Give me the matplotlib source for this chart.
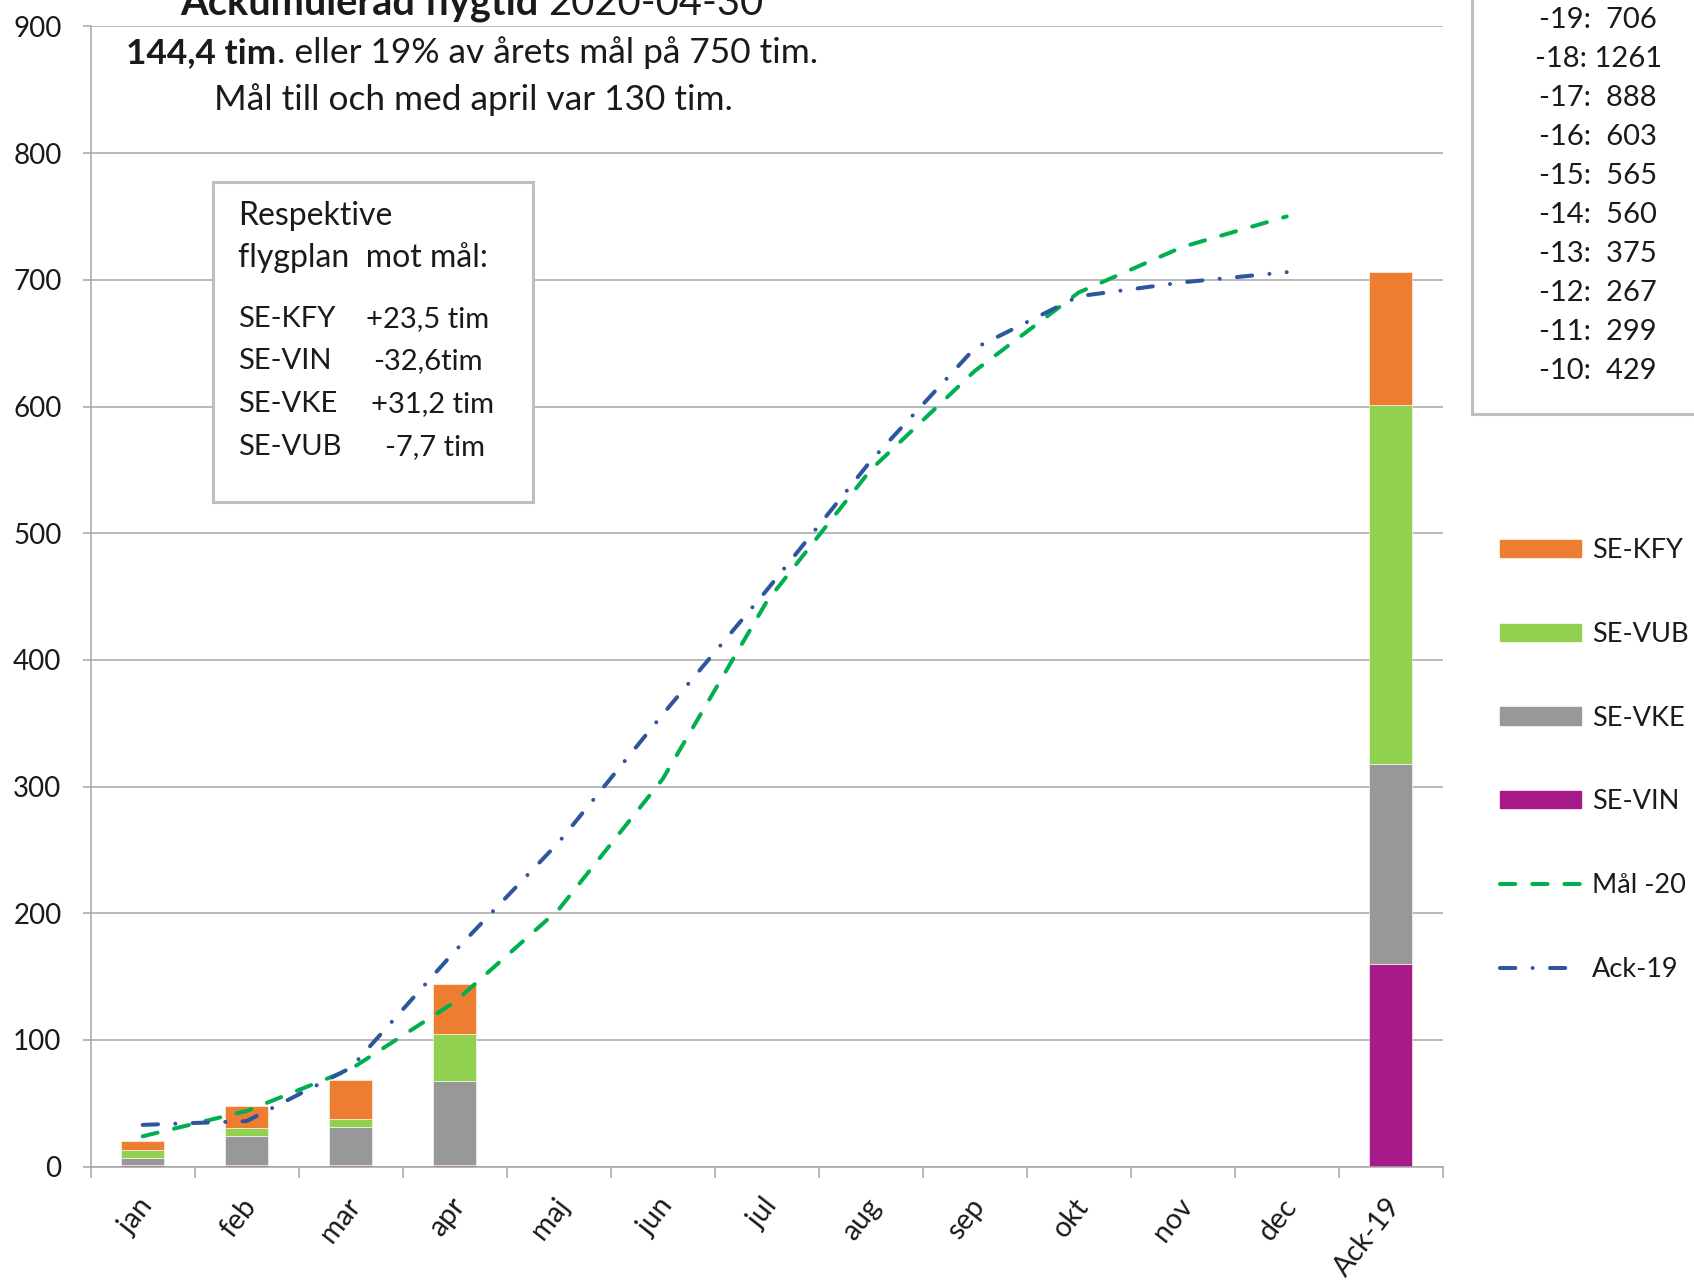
import matplotlib
matplotlib.use('Agg')
import matplotlib.pyplot as plt
from matplotlib.patches import Rectangle, Patch
from matplotlib.lines import Line2D
import matplotlib.transforms as mtransforms

plt.rcParams['font.family'] = ['Lato', 'DejaVu Sans']

# ---------------- data ----------------
categories = ['jan', 'feb', 'mar', 'apr', 'maj', 'jun', 'jul', 'aug',
              'sep', 'okt', 'nov', 'dec', 'Ack-19']
se_vin = [1.1, 1.1, 1.1, 1.0, 0, 0, 0, 0, 0, 0, 0, 0, 160]
se_vke = [6.1, 23.3, 30.5, 66.5, 0, 0, 0, 0, 0, 0, 0, 0, 158]
se_vub = [5.9, 6.1, 6.1, 36.9, 0, 0, 0, 0, 0, 0, 0, 0, 283]
se_kfy = [7.5, 17.1, 31.0, 39.9, 0, 0, 0, 0, 0, 0, 0, 0, 105]
mal_20 = [24, 44, 77, 130, 203, 306, 446, 550, 628, 690, 726, 750]
ack_19 = [33, 36, 78, 170, 256, 357, 455, 557, 646, 687, 698, 706]

year_labels = ['-19:  706', '-18: 1261', '-17:  888', '-16:  603', '-15:  565',
               '-14:  560', '-13:  375', '-12:  267', '-11:  299', '-10:  429']
plane_names = ['SE-KFY', 'SE-VIN', 'SE-VKE', 'SE-VUB']
plane_diffs = ['+23,5 tim', '-32,6tim', '+31,2 tim', '-7,7 tim']

# ---------------- style ----------------
C_KFY = '#ED7D31'
C_VUB = '#92D050'
C_VKE = '#989898'
C_VIN = '#A61B87'
C_MAL = '#00B050'
C_ACK = '#2F559C'
GRID = '#A6A6A6'
TXT = '#1A1A1A'
LW = 2.9
DASH_MAL = (3.8, 4.2)
DASH_ACK = (3.8, 4.3, 0.01, 4.3)

W, H = 1694, 1280
fig = plt.figure(figsize=(W / 100, H / 100), dpi=100)
fig.patch.set_facecolor('white')


def fx(px):
    return px / W


def fy(py):
    return 1 - py / H


ax = fig.add_axes([fx(90.7), fy(1166.7), fx(1442.7) - fx(90.7), fy(26.4) - fy(1166.7)])
ax.set_facecolor('white')

x = list(range(len(categories)))
bw = 0.41
bottom = [0.0] * len(x)
for vals, col in [(se_vin, C_VIN), (se_vke, C_VKE), (se_vub, C_VUB), (se_kfy, C_KFY)]:
    ax.bar(x, vals, width=bw, bottom=bottom, color=col, edgecolor='white',
           linewidth=0.4, zorder=2)
    bottom = [b + v for b, v in zip(bottom, vals)]

ax.plot(x[:12], mal_20, color=C_MAL, lw=LW, dashes=DASH_MAL,
        dash_capstyle='round', zorder=3)
ax.plot(x[:12], ack_19, color=C_ACK, lw=LW, dashes=DASH_ACK,
        dash_capstyle='round', zorder=3)

ax.set_xlim(-0.5, 12.5)
ax.set_ylim(0, 900)
ax.set_yticks(range(0, 901, 100))
ax.yaxis.grid(True, color=GRID, lw=1.1)
ax.set_axisbelow(True)
for s in ['top', 'right']:
    ax.spines[s].set_visible(False)
for s in ['left', 'bottom']:
    ax.spines[s].set_color(GRID)
    ax.spines[s].set_linewidth(1.1)

ax.tick_params(axis='y', length=6, color=GRID, width=1.1, pad=15,
               labelsize=20, labelcolor=TXT)
ax.set_xticks(x)
ax.set_xticklabels(categories, rotation=52, ha='right', va='center',
                   rotation_mode='anchor', fontsize=20.5, color=TXT)
ax.tick_params(axis='x', which='major', length=0, pad=25)
ax.set_xticks([i - 0.5 for i in range(14)], minor=True)
ax.tick_params(axis='x', which='minor', length=8, color=GRID, width=1.1)
off = mtransforms.ScaledTranslation(5 / 100, 0, fig.dpi_scale_trans)
for lab in ax.get_xticklabels():
    lab.set_transform(lab.get_transform() + off)

renderer = fig.canvas.get_renderer()


def runs(parts, cx, base_y, size):
    texts = [fig.text(0, 0, s, fontsize=size, fontweight=w, va='baseline',
                      ha='left', color=TXT) for s, w in parts]
    widths = [t.get_window_extent(renderer).width for t in texts]
    xx = cx - sum(widths) / 2
    for t, w in zip(texts, widths):
        t.set_position((fx(xx), fy(base_y)))
        xx += w


runs([('Ackumulerad flygtid ', 'bold'), ('2020-04-30', 'normal')], 472, 15, 28.7)
runs([('144,4 tim', 'bold'), ('. eller 19% av årets mål på 750 tim.', 'normal')], 472, 62.7, 25.4)
runs([('Mål till och med april var 130 tim.', 'normal')], 473, 110, 25.4)

# text box
fig.add_artist(Rectangle((fx(213.3), fy(501.7)), fx(533.3) - fx(213.3), fy(181.7) - fy(501.7),
                         transform=fig.transFigure, facecolor='white', edgecolor='#BFBFBF',
                         lw=2.2, zorder=5))
fig.text(fx(238.3), fy(225), 'Respektive', fontsize=23, va='baseline', color=TXT, zorder=6)
fig.text(fx(238.3), fy(266.7), 'flygplan  mot mål:', fontsize=23, va='baseline', color=TXT, zorder=6)
row_y = [326.7, 369, 411.7, 455]
diff_x = [365.7, 373, 370.7, 385]
for n, d, yy, xx in zip(plane_names, plane_diffs, row_y, diff_x):
    fig.text(fx(238.3), fy(yy), n, fontsize=21, va='baseline', color=TXT, zorder=6)
    fig.text(fx(xx), fy(yy), d, fontsize=21, va='baseline', color=TXT, zorder=6)

# top-right box
fig.add_artist(Rectangle((fx(1472.3), fy(414.3)), fx(1720) - fx(1472.3), fy(-20) - fy(414.3),
                         transform=fig.transFigure, facecolor='white', edgecolor='#BFBFBF',
                         lw=2.2, zorder=5))
for i, s in enumerate(year_labels):
    fig.text(fx(1598.3), fy(28.3 + i * 39.0), s, fontsize=21, ha='center',
             va='baseline', color=TXT, zorder=6)

# legend
handles = [Patch(color=C_KFY), Patch(color=C_VUB), Patch(color=C_VKE), Patch(color=C_VIN),
           Line2D([], [], color=C_MAL, lw=LW, dashes=DASH_MAL, dash_capstyle='round'),
           Line2D([], [], color=C_ACK, lw=LW, dashes=DASH_ACK, dash_capstyle='round')]
labels = ['SE-KFY', 'SE-VUB', 'SE-VKE', 'SE-VIN', 'Mål -20', 'Ack-19']
leg = ax.legend(handles, labels, loc='upper left', bbox_to_anchor=(fx(1500), fy(538)),
                bbox_transform=fig.transFigure, frameon=False, fontsize=19.5,
                handlelength=3.0, handleheight=0.6, handletextpad=0.4,
                labelspacing=2.17, borderpad=0, borderaxespad=0)
for t in leg.get_texts():
    t.set_color(TXT)

fig.savefig('out.png', dpi=100, facecolor='white')
